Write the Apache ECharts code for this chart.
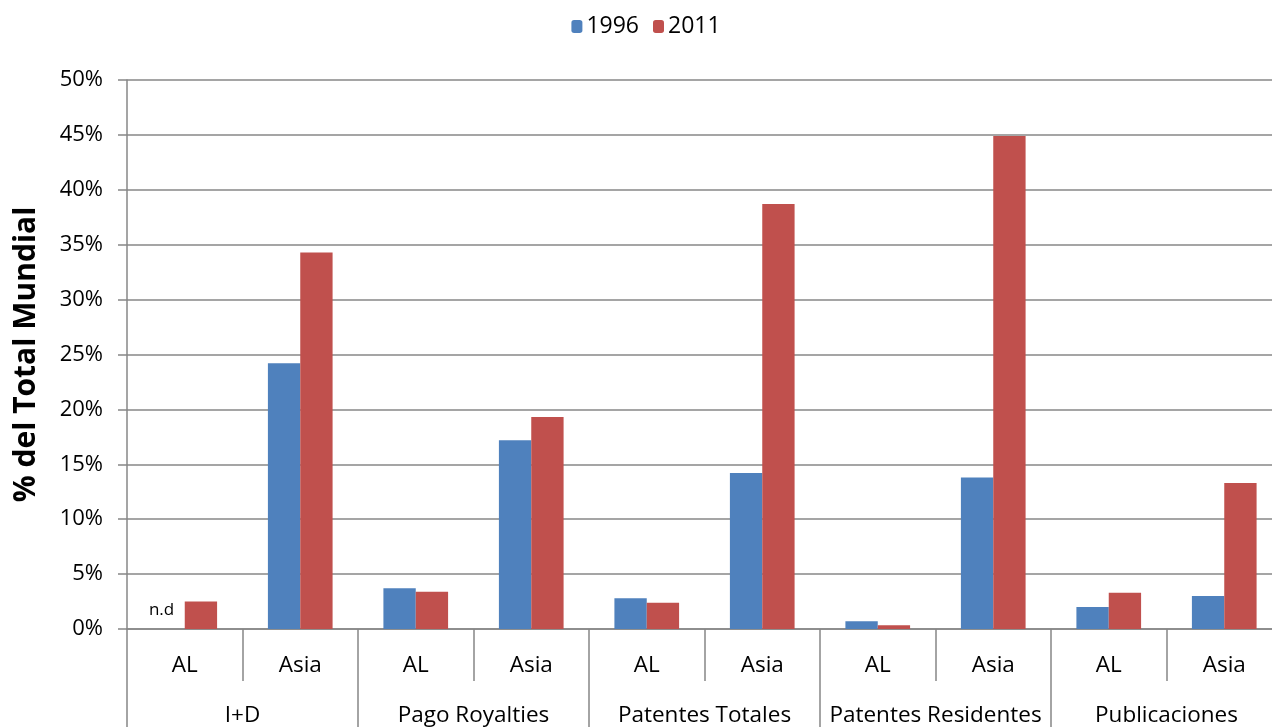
<!DOCTYPE html>
<html>
<head>
<meta charset="utf-8">
<script src="https://cdn.jsdelivr.net/npm/echarts@6/dist/echarts.min.js"></script>
<style>
  html, body { margin: 0; padding: 0; background: #fff; overflow: hidden; }
  #chart { width: 1292px; height: 727px; }
</style>
</head>
<body>
<div id="chart"></div>
<script>
// Regions within each indicator group
const regions = ['AL', 'Asia', 'AL', 'Asia', 'AL', 'Asia', 'AL', 'Asia', 'AL', 'Asia'];
// Indicator groups (outer category level)
const groups = ['I+D', 'Pago Royalties', 'Patentes Totales', 'Patentes Residentes', 'Publicaciones'];
// Share of world total, in percent
const years = ['1996', '2011'];
const values1996 = [0, 24.2, 3.7, 17.2, 2.8, 14.2, 0.7, 13.8, 2.0, 3.0];
const values2011 = [2.5, 34.3, 3.4, 19.3, 2.4, 38.7, 0.35, 44.9, 3.3, 13.3];
// Entries with no data for a year
const noData1996 = [0];

const FONT = 'Open Sans';
const GRAY = '#878787';

const data1996 = values1996.map((v, i) => noData1996.includes(i)
  ? { value: v, label: { show: true, formatter: 'n.d', position: 'top', distance: 10, fontSize: 17, color: '#000', fontFamily: FONT, offset: [-7, 0] } }
  : v);

const chart = echarts.init(document.getElementById('chart'));
chart.setOption({
  animation: false,
  textStyle: { fontFamily: FONT },
  legend: {
    top: 10,
    left: 'center',
    itemWidth: 11,
    itemHeight: 13,
    itemGap: 14,
    textStyle: { fontSize: 23, color: '#000', fontFamily: FONT, padding: [0, 0, 0, -1] },
    data: years
  },
  grid: { left: 127, right: 10, top: 80, bottom: 97 },
  xAxis: [
    {
      type: 'category',
      data: regions,
      axisLine: { lineStyle: { color: GRAY, width: 1.5 } },
      axisTick: { show: true, length: 52, lineStyle: { color: GRAY, width: 1.5 } },
      axisLabel: { color: '#000', fontSize: 22.5, margin: 25, fontFamily: FONT, interval: 0 }
    },
    {
      type: 'category',
      position: 'bottom',
      data: groups,
      axisLine: { show: false },
      axisTick: { show: true, length: 110, lineStyle: { color: GRAY, width: 1.5 } },
      axisLabel: { color: '#000', fontSize: 22.5, margin: 75, fontFamily: FONT, interval: 0 }
    }
  ],
  yAxis: {
    type: 'value',
    min: 0,
    max: 50,
    interval: 5,
    name: '% del Total Mundial',
    nameLocation: 'middle',
    nameRotate: 90,
    nameGap: 86,
    nameTextStyle: { fontSize: 30, fontWeight: 'bold', color: '#000', fontFamily: FONT },
    axisLine: { show: true, lineStyle: { color: GRAY, width: 1.5 } },
    axisTick: { show: true, length: 9, lineStyle: { color: GRAY, width: 1.5 } },
    axisLabel: { formatter: '{value}%', color: '#000', fontSize: 22, margin: 24, fontFamily: FONT },
    splitLine: { lineStyle: { color: GRAY, width: 1.5 } }
  },
  series: [
    {
      name: years[0],
      type: 'bar',
      xAxisIndex: 0,
      data: data1996,
      barGap: '0%',
      barCategoryGap: '44%',
      itemStyle: { color: '#4F81BD' }
    },
    {
      name: years[1],
      type: 'bar',
      xAxisIndex: 0,
      data: values2011,
      itemStyle: { color: '#C0504D' }
    }
  ]
});
</script>
</body>
</html>
